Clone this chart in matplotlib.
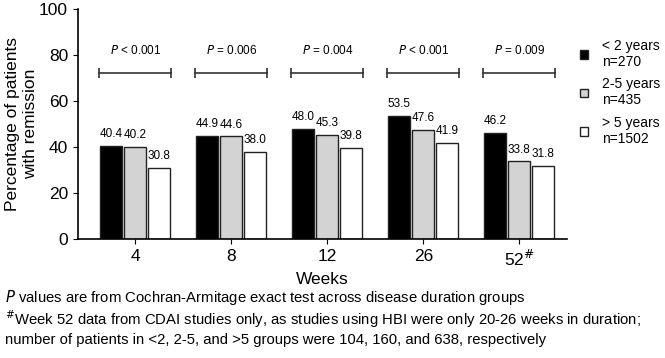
import numpy as np
import matplotlib.pyplot as plt

plt.rcParams['font.family'] = ['Liberation Sans', 'DejaVu Sans']

# ─── Datos ────────────────────────────────────────────────────────────────────
weeks    = ['4', '8', '12', '26', '52$^{\\#}$']
lt2      = [40.4, 44.9, 48.0, 53.5, 46.2]
y2to5    = [40.2, 44.6, 45.3, 47.6, 33.8]
gt5      = [30.8, 38.0, 39.8, 41.9, 31.8]
p_labels = ['< 0.001', '= 0.006', '= 0.004', '< 0.001', '= 0.009']
series_labels = ['< 2 years\nn=270', '2-5 years\nn=435', '> 5 years\nn=1502']
colors   = ['black', '#d3d3d3', 'white']

# ─── Gráfica ──────────────────────────────────────────────────────────────────
fig = plt.figure(figsize=(6.65, 3.58), dpi=100)
ax = fig.add_axes([0.117, 0.332, 0.736, 0.643])

x = np.arange(len(weeks))
w = 0.23
offs = [-0.25, 0.0, 0.25]
for vals, c, o, lab in zip([lt2, y2to5, gt5], colors, offs, series_labels):
    bars = ax.bar(x + o, vals, w, color=c, edgecolor='#222222', lw=1.0, label=lab)
    for b, v in zip(bars, vals):
        ax.text(b.get_x() + b.get_width()/2, v + 2.5, f'{v:.1f}',
                ha='center', va='bottom', fontsize=8.5)

# Corchetes con valor P
for xi, p in zip(x, p_labels):
    ax.plot([xi - 0.375, xi + 0.375], [72, 72], '-', color='#333333', lw=1.2)
    ax.plot([xi - 0.375, xi + 0.375], [72, 72], '|', color='#333333', ms=7, mew=1.2)
    ax.text(xi, 79, f'$P$ {p}', ha='center', va='bottom', fontsize=8.5)

ax.set_xlim(-0.6, 4.5)
ax.set_ylim(0, 100)
ax.set_yticks([0, 20, 40, 60, 80, 100])
ax.set_xticks(x)
ax.set_xticklabels(weeks, fontsize=12.5)
ax.tick_params(axis='y', labelsize=12.5)
ax.spines['top'].set_visible(False)
ax.spines['right'].set_visible(False)
for s in ['left', 'bottom']:
    ax.spines[s].set_linewidth(1.2)
ax.set_xlabel('Weeks', fontsize=12.5, labelpad=2)
ax.set_ylabel('Percentage of patients\nwith remission', fontsize=12.5, labelpad=1)

ax.legend(loc='upper left', bbox_to_anchor=(1.0, 0.925), frameon=False,
          fontsize=10, handlelength=0.6, handleheight=0.6, labelspacing=0.6,
          handletextpad=1.0)

# Notas al pie
fig.text(0.008, 0.17, '$P$ values are from Cochran-Armitage exact test across disease duration groups',
         fontsize=10.7, va='center')
fig.text(0.008, 0.108, '$^{\\#}$Week 52 data from CDAI studies only, as studies using HBI were only 20-26 weeks in duration;',
         fontsize=10.7, va='center')
fig.text(0.008, 0.05, 'number of patients in <2, 2-5, and >5 groups were 104, 160, and 638, respectively',
         fontsize=10.7, va='center')

fig.savefig('out.png', dpi=100)
